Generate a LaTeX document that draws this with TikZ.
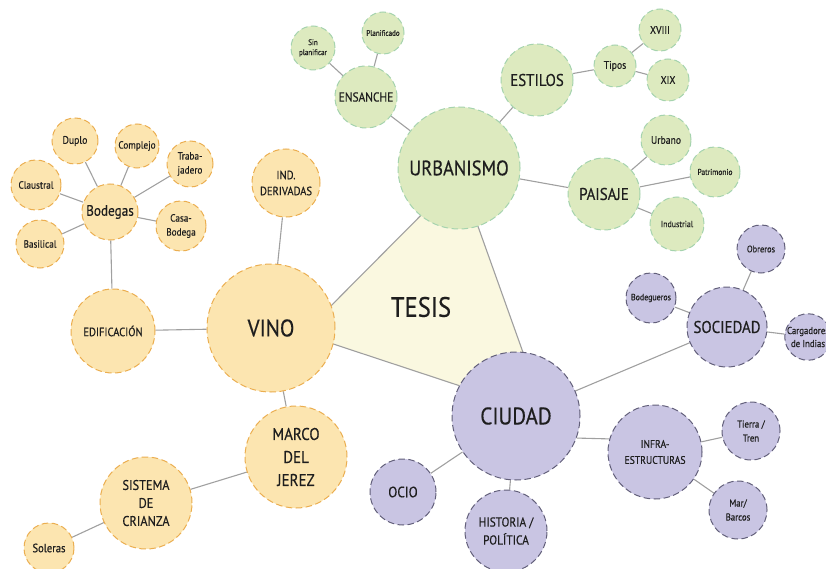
\documentclass[tikz,border=0pt]{standalone}
\usepackage{fontspec}
\setmainfont{PT Sans}[FakeStretch=0.88,FakeBold=0.4]
\usetikzlibrary{backgrounds}
\definecolor{yfill}{HTML}{FCE5B0}
\definecolor{yline}{HTML}{EBAE50}
\definecolor{gfill}{HTML}{DDEABF}
\definecolor{gline}{HTML}{A5D3AE}
\definecolor{pfill}{HTML}{C9C5E3}
\definecolor{pline}{HTML}{625F7A}
\definecolor{trifill}{HTML}{FAF8E0}
\definecolor{lnk}{HTML}{A0A0A0}
\definecolor{txt}{HTML}{1E1E1E}
\newcommand\fsz[2]{\fontsize{#1}{#2}\selectfont}
\begin{document}
\begin{tikzpicture}[x=1pt,y=-1pt,
  bub/.style={circle,inner sep=0pt,align=center,line width=1pt,dash pattern=on 6.5pt off 3.5pt,text=txt},
  yb/.style={bub,fill=yfill,draw=yline},
  gb/.style={bub,fill=gfill,draw=gline},
  pb/.style={bub,fill=pfill,draw=pline},
  link/.style={draw=lnk,line width=1.1pt}]
\useasboundingbox (0,0) rectangle (826,569);
\clip (0,0) rectangle (826,569);
% green
\node[gb,minimum size=122pt,font=\fsz{21}{24}] (urb) at (459,168) {URBANISMO};
\node[gb,minimum size=62pt,font=\fsz{13}{16}] (ens) at (366,97) {ENSANCHE};
\node[gb,minimum size=44pt,font=\fsz{8}{10}] (sinp) at (313,48) {Sin\\planificar};
\node[gb,minimum size=42pt,font=\fsz{8}{10}] (plan) at (383,33) {Planificado};
\node[gb,minimum size=72pt,font=\fsz{17}{20}] (est) at (537,80) {ESTILOS};
\node[gb,minimum size=42pt,font=\fsz{11}{13}] (tipos) at (615,66) {Tipos};
\node[gb,minimum size=42pt,font=\fsz{11}{13}] (xviii) at (660,30) {XVIII};
\node[gb,minimum size=42pt,font=\fsz{11}{13}] (xix) at (668,80) {XIX};
\node[gb,minimum size=72pt,font=\fsz{17}{20}] (pais) at (604,194) {PAISAJE};
\node[gb,minimum size=50pt,font=\fsz{11}{13}] (urbano) at (666,140) {Urbano};
\node[gb,minimum size=50pt,font=\fsz{8.5}{10}] (patri) at (715,172) {Patrimonio};
\node[gb,minimum size=54pt,font=\fsz{9}{11}] (indus) at (677,224) {Industrial};
% yellow
\node[yb,minimum size=56pt,font=\fsz{15}{17}] (bod) at (110,212) {Bodegas};
\node[yb,minimum size=46pt,font=\fsz{11}{13}] (duplo) at (75,141) {Duplo};
\node[yb,minimum size=44pt,font=\fsz{10.5}{12}] (compl) at (137,146) {Complejo};
\node[yb,minimum size=46pt,font=\fsz{10.5}{14}] (traba) at (190,164) {Traba-\\jadero};
\node[yb,minimum size=50pt,font=\fsz{10.5}{12}] (claus) at (36,185) {Claustral};
\node[yb,minimum size=50pt,font=\fsz{10.5}{14}] (casa) at (181,226) {Casa-\\Bodega};
\node[yb,minimum size=48pt,font=\fsz{10.5}{12}] (basil) at (40,244) {Basilical};
\node[yb,minimum size=68pt,font=\fsz{12}{16}] (indd) at (286,183) {IND.\\DERIVADAS};
\node[yb,minimum size=128pt,font=\fsz{24}{28}] (vino) at (271,328) {VINO};
\node[yb,minimum size=84pt,font=\fsz{12}{14}] (edif) at (113,331) {EDIFICACIÓN};
\node[yb,minimum size=102pt,font=\fsz{17}{23}] (marco) at (296,457) {MARCO\\DEL\\JEREZ};
\node[yb,minimum size=92pt,font=\fsz{14}{18}] (sist) at (146,503) {SISTEMA\\DE\\CRIANZA};
\node[yb,minimum size=50pt,font=\fsz{12}{14}] (soler) at (49,548) {Soleras};
% purple
\node[pb,minimum size=128pt,font=\fsz{24}{28}] (ciu) at (516,416) {CIUDAD};
\node[pb,minimum size=80pt,font=\fsz{17}{20}] (soc) at (727,327) {SOCIEDAD};
\node[pb,minimum size=48pt,font=\fsz{9.5}{11}] (obr) at (761,249) {Obreros};
\node[pb,minimum size=50pt,font=\fsz{9}{11}] (bodeg) at (651,298) {Bodegueros};
\node[pb,minimum size=46pt,font=\fsz{10}{13}] (carg) at (808,337) {Cargadores\\de Indias};
\node[pb,minimum size=94pt,font=\fsz{11}{16}] (infra) at (655,452) {INFRA-\\ESTRUCTURAS};
\node[pb,minimum size=58pt,font=\fsz{10}{14}] (tierra) at (751,431) {Tierra /\\Tren};
\node[pb,minimum size=58pt,font=\fsz{10}{14}] (mar) at (738,510) {Mar/\\Barcos};
\node[pb,minimum size=66pt,font=\fsz{15}{17}] (ocio) at (403,492) {OCIO};
\node[pb,minimum size=82pt,font=\fsz{13}{18}] (hist) at (506,531) {HISTORIA /\\POLÍTICA};
% center
\node[text=txt,font=\fsz{28}{32}] (tesis) at (421,307) {TESIS};
\coordinate (tv) at (303,334);
\coordinate (tu) at (460,176);
\coordinate (tc) at (545,414);
\begin{scope}[on background layer]
  \fill[trifill] (tv) -- (tu) -- (tc) -- cycle;
  \draw[link] (tv) -- (tu) -- (tc) -- cycle;
  \draw[link] (urb) -- (ens);
  \draw[link] (ens) -- (sinp);
  \draw[link] (ens) -- (plan);
  \draw[link] (urb) -- (est);
  \draw[link] (est) -- (tipos);
  \draw[link] (tipos) -- (xviii);
  \draw[link] (tipos) -- (xix);
  \draw[link] (urb) -- (pais);
  \draw[link] (pais) -- (urbano);
  \draw[link] (pais) -- (patri);
  \draw[link] (pais) -- (indus);
  \draw[link] (vino) -- (indd);
  \draw[link] (vino) -- (edif);
  \draw[link] (edif) -- (bod);
  \draw[link] (bod) -- (duplo);
  \draw[link] (bod) -- (compl);
  \draw[link] (bod) -- (traba);
  \draw[link] (bod) -- (claus);
  \draw[link] (bod) -- (casa);
  \draw[link] (bod) -- (basil);
  \draw[link] (vino) -- (marco);
  \draw[link] (marco) -- (sist);
  \draw[link] (sist) -- (soler);
  \draw[link] (ciu) -- (soc);
  \draw[link] (soc) -- (obr);
  \draw[link] (soc) -- (bodeg);
  \draw[link] (soc) -- (carg);
  \draw[link] (ciu.-20) -- (infra.164);
  \draw[link] (infra) -- (tierra);
  \draw[link] (infra) -- (mar);
  \draw[link] (ciu) -- (ocio);
  \draw[link] (ciu) -- (hist);
\end{scope}
\end{tikzpicture}
\end{document}
